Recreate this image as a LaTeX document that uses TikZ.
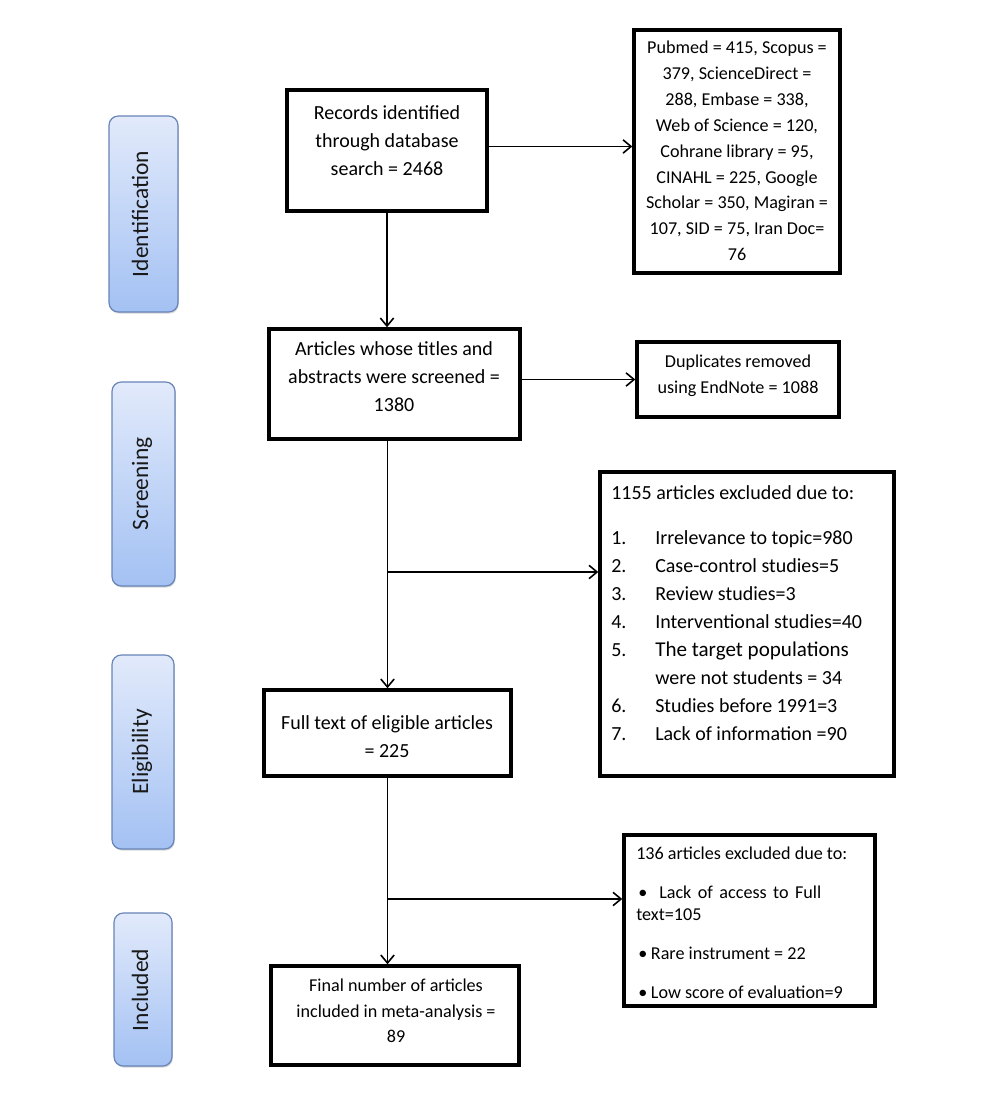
\documentclass[tikz,border=0pt]{standalone}
\usepackage{fontspec}
\setmainfont{Carlito}
\usetikzlibrary{arrows.meta,fit,shadows}
\definecolor{sidetop}{RGB}{226,234,251}
\definecolor{sidebot}{RGB}{163,193,243}
\definecolor{sidebd}{RGB}{104,132,184}
\newcommand\fA{\fontsize{15}{21}\selectfont}
\newcommand\fB{\fontsize{13.6}{19.4}\selectfont}
\newcommand\fS{\fontsize{17.6}{20}\selectfont}
\begin{document}
\begin{tikzpicture}[x=0.75pt,y=-0.75pt,
  box/.style={draw=black, line width=2.6pt, inner sep=0pt, rectangle},
  side/.style={draw=sidebd, line width=0.9pt, rounded corners=7pt, top color=sidetop, bottom color=sidebot, inner sep=0pt,
     drop shadow={shadow xshift=0.6pt, shadow yshift=-1.2pt, opacity=0.22, fill=black!70}},
  tx/.style={inner sep=0pt, anchor=north, text=black},
  sidetxt/.style={inner sep=0pt, rotate=90, anchor=base, font=\fS, text=black!90},
  arr/.style={line width=1.2pt, -{Straight Barb[length=6pt,width=10pt,line width=1.2pt]}},
  ln/.style={line width=1.2pt}]
\useasboundingbox (0,0) rectangle (1000,1113);
\fill[white] (0,0) rectangle (1000,1113);

% side labels
\node[side, fit={(109,116) (178,312)}] (sid) {};
\node[sidetxt] (sidt) at (148,214) {Identification};
\node[side, fit={(112,382) (175,586)}] (sscr) {};
\node[sidetxt] (sscrt) at (148,484) {Screening};
\node[side, fit={(112,655) (174,849)}] (sel) {};
\node[sidetxt] (selt) at (148,752) {Eligibility};
\node[side, fit={(114,913) (172,1066)}] (sinc) {};
\node[sidetxt] (sinct) at (148,990) {Included};

% main boxes
\node[box, fit={(287,90) (487,211)}] (rec) {};
\node[tx, font=\fA] (rect) at (387,99.4) {\begin{tabular}{@{}c@{}}Records identified\\through database\\search = 2468\end{tabular}};

\node[box, fit={(634,30) (840,273)}] (db) {};
\node[tx, font=\fB] (dbt) at (737,35.3) {\begin{tabular}{@{}c@{}}Pubmed = 415, Scopus =\\379, ScienceDirect =\\288, Embase = 338,\\Web of Science = 120,\\Cohrane library = 95,\\CINAHL = 225, Google\\Scholar = 350, Magiran =\\107, SID = 75, Iran Doc=\\76\end{tabular}};

\node[box, fit={(269,329) (520,439)}] (scr) {};
\node[tx, font=\fA] (scrt) at (394,335.4) {\begin{tabular}{@{}c@{}}Articles whose titles and\\abstracts were screened =\\1380\end{tabular}};

\node[box, fit={(637,342) (839,417)}] (dup) {};
\node[tx, font=\fontsize{13.6}{19.5}\selectfont] (dupt) at (738,349.3) {\begin{tabular}{@{}c@{}}Duplicates removed\\using EndNote = 1088\end{tabular}};

\node[box, fit={(600,472) (894,776)}] (ex1) {};
\node[tx, font=\fA, anchor=north west] (ex1h) at (611,479.4) {\begin{tabular}{@{}l@{}}1155 articles excluded due to:\end{tabular}};
\node[tx, font=\fA, anchor=north west] (ex1l) at (611,524.4) {\begin{tabular}{@{}p{33pt}@{}l@{}}1.&Irrelevance to topic=980\\2.&Case-control studies=5\\3.&Review studies=3\\4.&Interventional studies=40\\5.&{\fontsize{15.8}{21}\selectfont The target populations}\\&were not students = 34\\6.&Studies before 1991=3\\7.&Lack of information =90\end{tabular}};

\node[box, fit={(264,690) (511,776)}] (full) {};
\node[tx, font=\fA] (fullt) at (387,709.4) {\begin{tabular}{@{}c@{}}Full text of eligible articles\\= 225\end{tabular}};

\node[box, fit={(624,835) (875,1006)}] (ex2) {};
\node[tx, font=\fB, anchor=north west] (ex2h) at (636,841.3) {\begin{tabular}{@{}l@{}}136 articles excluded due to:\end{tabular}};
\node[inner sep=0pt, anchor=base west, font=\fB] (ex2a) at (638,898.4) {\makebox[15.75pt][l]{•}\makebox[121.5pt][s]{Lack of access to Full}};
\node[inner sep=0pt, anchor=base west, font=\fB] (ex2b) at (636,920.4) {text=105};
\node[inner sep=0pt, anchor=base west, font=\fB] (ex2c) at (638,959.4) {\makebox[9.5pt][l]{•}Rare instrument = 22};
\node[inner sep=0pt, anchor=base west, font=\fB] (ex2d) at (638,998.4) {\makebox[9.5pt][l]{•}Low score of evaluation=9};

\node[box, fit={(271,966) (519,1065)}] (fin) {};
\node[tx, font=\fontsize{13.6}{19.1}\selectfont] (fint) at (396,973.5) {\begin{tabular}{@{}c@{}}Final number of articles\\included in meta-analysis =\\89\end{tabular}};

% connectors
\draw[arr] (rec.south) -- (rec.south |- scr.north);
\draw[arr] ([yshift=3pt]rec.east) -- ([yshift=3pt]rec.east -| db.west);
\draw[arr] (scr.east |- dup.west) -- (dup.west);
\draw[arr] (scr.south -| full.north) -- (full.north);
\coordinate (b1) at (full.north |- 0,572);
\draw[arr] (b1) -- (b1 -| ex1.west);
\draw[arr] (full.south) -- (full.south |- fin.north);
\coordinate (b2) at (full.south |- 0,899);
\draw[arr] (b2) -- (b2 -| ex2.west);
\end{tikzpicture}
\end{document}
